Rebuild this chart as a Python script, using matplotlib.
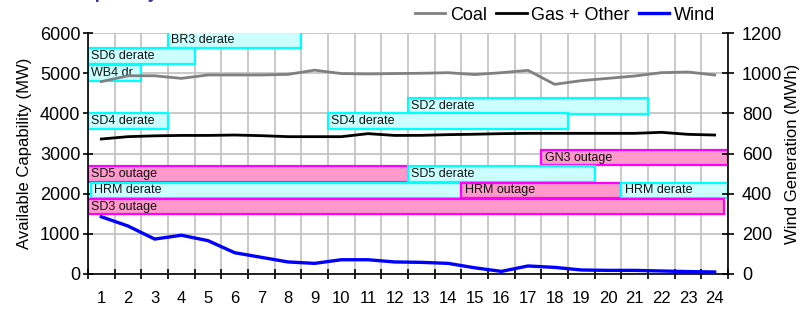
import numpy as np
import matplotlib
matplotlib.use("Agg")
import matplotlib.pyplot as plt

plt.rcParams['font.family'] = ['Liberation Sans', 'DejaVu Sans']

hours = list(range(1, 25))
coal = [4790, 4935, 4935, 4870, 4955, 4955, 4955, 4970, 5075, 4990, 4980, 4990,
        4998, 5012, 4965, 5012, 5070, 4722, 4814, 4871, 4929, 5012, 5029, 4954]
gas_other = [3361, 3419, 3440, 3450, 3450, 3460, 3444, 3419, 3419, 3419, 3494, 3450,
             3452, 3469, 3480, 3494, 3502, 3502, 3502, 3502, 3502, 3527, 3477, 3460]
wind = [285, 239, 174, 193, 166, 106, 83, 60, 53, 71, 71, 60,
        58, 53, 31, 13, 40, 33, 20, 18, 18, 15, 12, 10]

# Unit events: label, start boundary (hours), end boundary (hours), kind
event_labels = ["BR3 derate", "SD6 derate", "WB4 dr", "SD2 derate", "SD4 derate", "SD4 derate",
                "GN3 outage", "SD5 outage", "SD5 derate", "HRM derate", "HRM outage",
                "HRM derate", "SD3 outage"]
event_start = [3, 0, 0, 12, 0, 9, 17, 0, 12, 0.1, 14, 20, 0]
event_end = [8, 4, 2, 21, 3, 18, 24, 12, 19, 14, 20, 24, 23.85]
event_kind = ["derate", "derate", "derate", "derate", "derate", "derate",
              "outage", "outage", "derate", "derate", "outage", "derate", "outage"]
event_level = [5825, 5425, 5005, 4185, 3810, 3810, 2900, 2490, 2490, 2085, 2085, 2085, 1680]

styles = {"derate": dict(fc="#ccffff", ec="#00ffff"),
          "outage": dict(fc="#ff99cc", ec="#ff00ff")}

fig = plt.figure(figsize=(8.04, 3.12), dpi=100)
ax = fig.add_axes([88/804, 1-274/312, 640/804, 241/312])
ax2 = ax.twinx()

grid_c = "#c0c0c0"
ax.set_xlim(0.5, 24.5)
ax.set_ylim(0, 6000)
ax2.set_ylim(0, 1200)

# grid
ax.set_xticks(np.arange(0.5, 25, 1))
ax.set_xticklabels([])
ax.set_xticks(hours, minor=True)
ax.set_xticklabels([str(h) for h in hours], minor=True)
ax.set_yticks(np.arange(0, 6001, 1000))
ax2.set_yticks(np.arange(0, 1201, 200))
ax.grid(True, which="major", color=grid_c, lw=1.2, zorder=0)
ax.set_axisbelow(True)

bh = 380
for lab, s, e, k, lv in zip(event_labels, event_start, event_end, event_kind, event_level):
    st = styles[k]
    ax.barh(lv, e - s, left=s + 0.5, height=bh, color=st["fc"], edgecolor=st["ec"],
            linewidth=1.6, zorder=2)
    ax.text(s + 0.5 + 0.12, lv, lab, va="center", ha="left", fontsize=9, color="#111111", zorder=3)

l1, = ax.plot(hours, coal, color="#808080", lw=2.0, zorder=4, label="Coal")
l2, = ax.plot(hours, gas_other, color="black", lw=2.0, zorder=4, label="Gas + Other")
l3, = ax2.plot(hours, wind, color="#0000ff", lw=2.4, zorder=4, label="Wind")

for sp in ["top"]:
    ax.spines[sp].set_visible(False)
    ax2.spines[sp].set_visible(False)
ax2.spines["left"].set_visible(False)
ax2.spines["bottom"].set_visible(False)
ax.spines["right"].set_visible(False)
for a in (ax, ax2):
    for sp in a.spines.values():
        sp.set_linewidth(1.2)

ax.tick_params(axis="x", which="major", direction="inout", length=7, width=1.2)
ax.tick_params(axis="x", which="minor", length=0, pad=12, labelsize=12)
ax.tick_params(axis="y", direction="inout", length=7, width=1.2, pad=2, labelsize=13)
ax2.tick_params(axis="y", direction="inout", length=8, width=1.2, pad=6, labelsize=13)

ax.set_ylabel("Available Capability (MW)", fontsize=12, labelpad=6)
ax2.set_ylabel("Wind Generation (MWh)", fontsize=12, labelpad=2)

fig.legend(handles=[l1, l2, l3], loc="center", bbox_to_anchor=(565/804, 1-15/312), ncol=3,
           frameon=False, fontsize=13, handlelength=1.7, handletextpad=0.25,
           columnspacing=0.5, borderaxespad=0)

fig.text(25/804, 1+2.5/312, "Total Capability", fontsize=13, fontweight="bold",
         color="#333399", va="baseline", ha="left")

fig.savefig("out.png", dpi=100)
